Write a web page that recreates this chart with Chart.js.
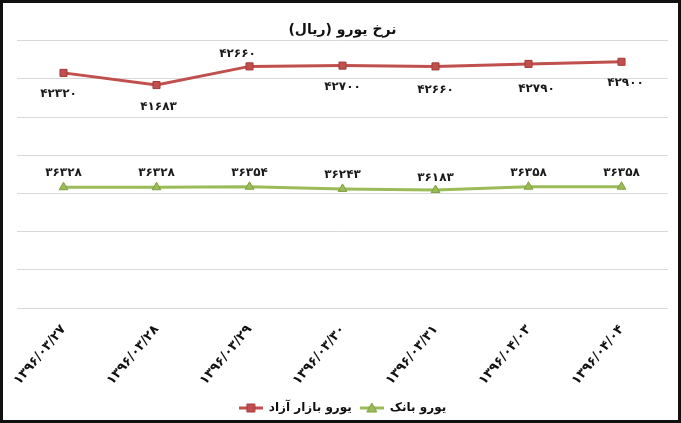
<!DOCTYPE html>
<html lang="fa">
<head>
    <meta charset="UTF-8">
    <title>نرخ یورو (ریال)</title>
    <script src="https://cdn.jsdelivr.net/npm/chart.js"></script>
    <style>
        html, body {
            margin: 0;
            padding: 0;
            background: #fff;
        }
        .chart-box {
            width: 681px;
            height: 423px;
            box-sizing: border-box;
            border: 3px solid #111;
            position: relative;
        }
        /* persian text needs rtl base direction on the canvas */
        canvas {
            direction: rtl;
        }
    </style>
</head>
<body>
    <div class="chart-box">
        <canvas id="euroChart"></canvas>
    </div>

    <script>
        // Data
        const dates = ['۱۳۹۶/۰۳/۲۷', '۱۳۹۶/۰۳/۲۸', '۱۳۹۶/۰۳/۲۹', '۱۳۹۶/۰۳/۳۰', '۱۳۹۶/۰۳/۳۱', '۱۳۹۶/۰۴/۰۳', '۱۳۹۶/۰۴/۰۴'];
        const freeMarket = [42320, 41683, 42660, 42700, 42660, 42790, 42900];
        const bankRate = [36328, 36328, 36354, 36243, 36183, 36358, 36358];

        // where each value label sits relative to its point (px)
        const freeLabelOffsets = [[-5, 21], [2, 22], [-12, -13], [0, 21], [0, 23], [8, 25], [4, 21]];
        const bankLabelOffsets = [[0, -14], [0, -14], [0, -14], [0, -14], [0, -12], [0, -14], [0, -14]];

        const faDigits = '۰۱۲۳۴۵۶۷۸۹';
        function toFa(n) {
            return String(n).replace(/[0-9]/g, d => faDigits[d]);
        }

        const fontFamily = '"DejaVu Sans", sans-serif';
        const labelFont = 'bold 12px ' + fontFamily;

        // little legend icons: a line with the marker in the middle
        function legendIcon(color, edge, shape) {
            const c = document.createElement('canvas');
            c.width = 24;
            c.height = 12;
            const g = c.getContext('2d');
            g.strokeStyle = color;
            g.lineWidth = 3;
            g.beginPath();
            g.moveTo(0, 6);
            g.lineTo(24, 6);
            g.stroke();
            g.fillStyle = color;
            g.strokeStyle = edge;
            g.lineWidth = 1;
            g.beginPath();
            if (shape === 'rect') {
                g.rect(8, 2, 8, 8);
            } else {
                g.moveTo(12, 1);
                g.lineTo(17, 10);
                g.lineTo(7, 10);
                g.closePath();
            }
            g.fill();
            g.stroke();
            return c;
        }
        const legendIcons = [legendIcon('#c0504d', '#a33c39', 'rect'), legendIcon('#9bbb59', '#7f9e3e', 'tri')];

        // draws the value labels next to the points
        const valueLabels = {
            id: 'valueLabels',
            afterDatasetsDraw(chart) {
                const ctx = chart.ctx;
                ctx.save();
                ctx.font = labelFont;
                ctx.fillStyle = '#1a1a1a';
                ctx.textAlign = 'center';
                ctx.textBaseline = 'middle';
                chart.data.datasets.forEach((ds, i) => {
                    const offsets = i === 0 ? freeLabelOffsets : bankLabelOffsets;
                    chart.getDatasetMeta(i).data.forEach((pt, j) => {
                        ctx.fillText(toFa(ds.data[j]), pt.x + offsets[j][0], pt.y + offsets[j][1]);
                    });
                });
                ctx.restore();
            }
        };

        new Chart(document.getElementById('euroChart'), {
            type: 'line',
            data: {
                labels: dates,
                datasets: [{
                    label: 'یورو بازار آزاد',
                    data: freeMarket,
                    borderColor: '#c0504d',
                    backgroundColor: '#c0504d',
                    borderWidth: 3,
                    pointStyle: 'rect',
                    pointRadius: 5,
                    pointBorderColor: '#a33c39',
                    pointBorderWidth: 1,
                    tension: 0
                }, {
                    label: 'یورو بانک',
                    data: bankRate,
                    borderColor: '#9bbb59',
                    backgroundColor: '#9bbb59',
                    borderWidth: 3,
                    pointStyle: 'triangle',
                    pointRadius: 5,
                    pointBorderColor: '#7f9e3e',
                    pointBorderWidth: 1,
                    tension: 0
                }]
            },
            options: {
                responsive: true,
                maintainAspectRatio: false,
                animation: false,
                layout: {
                    padding: { left: 14, right: 10, top: 0, bottom: -4 }
                },
                plugins: {
                    title: {
                        display: true,
                        text: 'نرخ یورو (ریال)',
                        color: '#111',
                        font: { family: fontFamily, size: 14, weight: 'bold' },
                        padding: { top: 19, bottom: 2 }
                    },
                    legend: {
                        position: 'bottom',
                        labels: {
                            usePointStyle: true,
                            pointStyleWidth: 24,
                            color: '#111',
                            font: { family: fontFamily, size: 12, weight: 'bold' },
                            padding: 8,
                            generateLabels(chart) {
                                const items = Chart.defaults.plugins.legend.labels.generateLabels(chart);
                                items.forEach((item, i) => { item.pointStyle = legendIcons[i]; });
                                return items;
                            }
                        }
                    },
                    tooltip: { enabled: false }
                },
                scales: {
                    x: {
                        offset: true,
                        grid: { display: false },
                        border: { display: false },
                        ticks: {
                            color: '#111',
                            font: { family: fontFamily, size: 13, weight: 'bold' },
                            minRotation: 50,
                            maxRotation: 50,
                            padding: 6
                        }
                    },
                    y: {
                        min: 30000,
                        max: 44000,
                        ticks: { stepSize: 2000, display: false },
                        grid: { color: '#d9d9d9', lineWidth: 1, drawTicks: false },
                        border: { display: false }
                    }
                }
            },
            plugins: [valueLabels]
        });
    </script>
</body>
</html>
